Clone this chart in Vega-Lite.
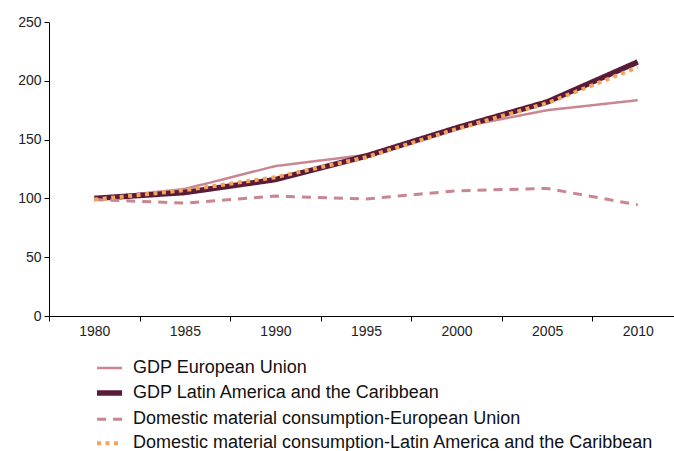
{
  "$schema": "https://vega.github.io/schema/vega-lite/v6.json",
  "width": 625,
  "height": 294,
  "autosize": {"type": "none"},
  "padding": {"left": 49, "top": 22, "right": 0, "bottom": 135},
  "background": "white",
  "config": {
    "view": {"stroke": null},
    "font": "Liberation Sans",
    "legend": {"orient": "none", "legendX": 45, "legendY": 332, "direction": "vertical", "title": null,
        "symbolType": "stroke", "symbolSize": 625, "labelFontSize": 18, "labelColor": "#111", "labelFont": "Liberation Sans", "rowPadding": 0.6, "labelOffset": 8, "labelLimit": 700, "symbolStrokeWidth": 3}
  },
  "data": {
    "values": [
      {"year": "1980", "series": "GDP European Union", "value": 100},
      {"year": "1985", "series": "GDP European Union", "value": 108},
      {"year": "1990", "series": "GDP European Union", "value": 127.5},
      {"year": "1995", "series": "GDP European Union", "value": 137},
      {"year": "2000", "series": "GDP European Union", "value": 160},
      {"year": "2005", "series": "GDP European Union", "value": 175},
      {"year": "2010", "series": "GDP European Union", "value": 183.5},
      {"year": "1980", "series": "GDP Latin America and the Caribbean", "value": 100},
      {"year": "1985", "series": "GDP Latin America and the Caribbean", "value": 105},
      {"year": "1990", "series": "GDP Latin America and the Caribbean", "value": 116},
      {"year": "1995", "series": "GDP Latin America and the Caribbean", "value": 136},
      {"year": "2000", "series": "GDP Latin America and the Caribbean", "value": 160},
      {"year": "2005", "series": "GDP Latin America and the Caribbean", "value": 182},
      {"year": "2010", "series": "GDP Latin America and the Caribbean", "value": 216},
      {"year": "1980", "series": "Domestic material consumption-European Union", "value": 99},
      {"year": "1985", "series": "Domestic material consumption-European Union", "value": 96},
      {"year": "1990", "series": "Domestic material consumption-European Union", "value": 102},
      {"year": "1995", "series": "Domestic material consumption-European Union", "value": 99.5},
      {"year": "2000", "series": "Domestic material consumption-European Union", "value": 106.5},
      {"year": "2005", "series": "Domestic material consumption-European Union", "value": 108.5},
      {"year": "2010", "series": "Domestic material consumption-European Union", "value": 94.5},
      {"year": "1980", "series": "Domestic material consumption-Latin America and the Caribbean", "value": 99},
      {"year": "1985", "series": "Domestic material consumption-Latin America and the Caribbean", "value": 107},
      {"year": "1990", "series": "Domestic material consumption-Latin America and the Caribbean", "value": 118},
      {"year": "1995", "series": "Domestic material consumption-Latin America and the Caribbean", "value": 135},
      {"year": "2000", "series": "Domestic material consumption-Latin America and the Caribbean", "value": 159},
      {"year": "2005", "series": "Domestic material consumption-Latin America and the Caribbean", "value": 181},
      {"year": "2010", "series": "Domestic material consumption-Latin America and the Caribbean", "value": 211.5}
    ]
  },
  "mark": {"type": "line", "clip": false},
  "encoding": {
    "x": {
      "field": "year", "type": "ordinal", "title": null,
      "scale": {"type": "band", "range": [0, 634], "paddingInner": 0, "paddingOuter": 0},
      "axis": {"labelAngle": 0, "tickBand": "extent", "tickSize": 5, "labelPadding": 3, "domainColor": "#000", "tickColor": "#000", "labelColor": "#222", "labelFontSize": 14, "labelFont": "Liberation Sans", "grid": false}
    },
    "y": {
      "field": "value", "type": "quantitative", "title": null,
      "scale": {"domain": [0, 250], "nice": false},
      "axis": {"values": [0, 50, 100, 150, 200, 250], "tickSize": 5, "labelPadding": 3, "domainColor": "#000", "tickColor": "#000", "labelColor": "#222", "labelFontSize": 14, "labelFont": "Liberation Sans", "grid": false}
    },
    "color": {
      "field": "series", "type": "nominal", "sort": null,
      "scale": {
        "domain": ["GDP European Union", "GDP Latin America and the Caribbean", "Domestic material consumption-European Union", "Domestic material consumption-Latin America and the Caribbean"],
        "range": ["#c98590", "#5a1b38", "#c98590", "#f5a35a"]
      }
    },
    "strokeDash": {
      "field": "series", "type": "nominal", "sort": null,
      "scale": {
        "domain": ["GDP European Union", "GDP Latin America and the Caribbean", "Domestic material consumption-European Union", "Domestic material consumption-Latin America and the Caribbean"],
        "range": [[1, 0], [1, 0], [9, 7], [4, 4.5]]
      }
    },
    "strokeWidth": {
      "field": "series", "type": "nominal", "sort": null,
      "scale": {
        "type": "ordinal",
        "domain": ["GDP European Union", "GDP Latin America and the Caribbean", "Domestic material consumption-European Union", "Domestic material consumption-Latin America and the Caribbean"],
        "range": [2.5, 5.5, 3, 4]
      }
    }
  }
}
